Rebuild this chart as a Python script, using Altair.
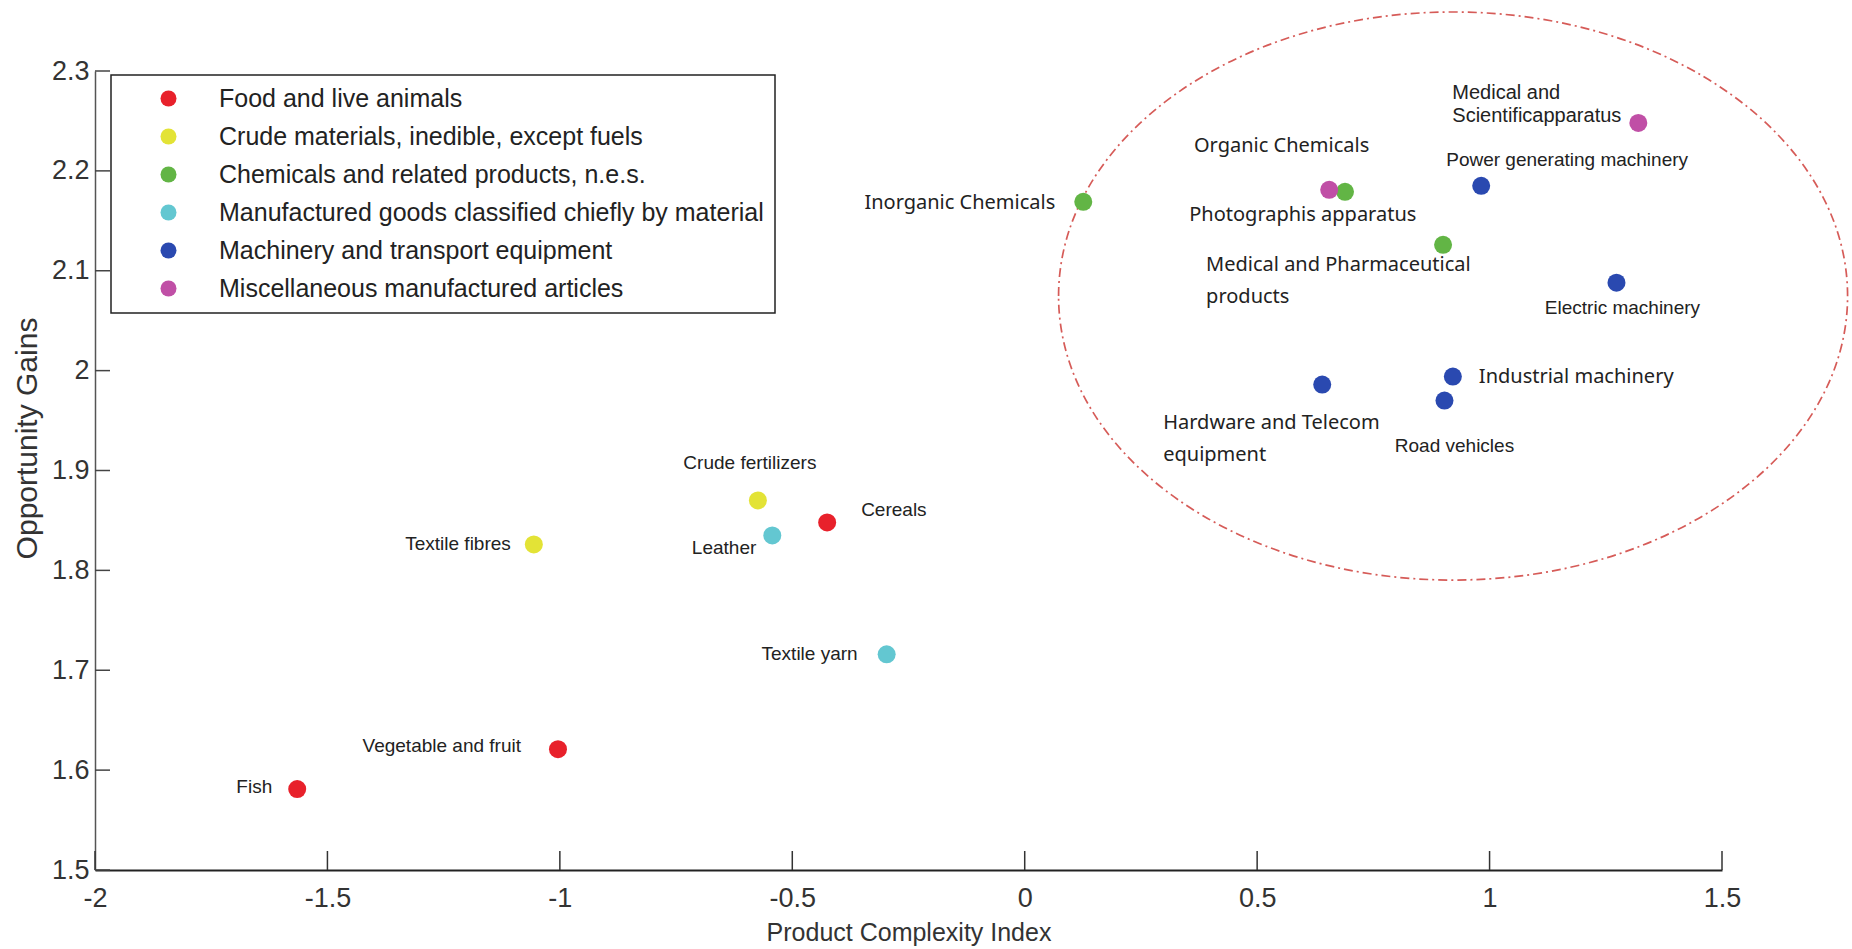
import altair as alt
import pandas as pd

# ---- categories (SITC sections) and their colours ----
groups = [
    "Food and live animals",
    "Crude materials, inedible, except fuels",
    "Chemicals and related products, n.e.s.",
    "Manufactured goods classified chiefly by material",
    "Machinery and transport equipment",
    "Miscellaneous manufactured articles",
]
group_colors = ["#e8212b", "#e3e336", "#62b545", "#63c7d1", "#2a49b0", "#c04fa6"]

# ---- products ----
products = [
    "Fish", "Vegetable and fruit", "Cereals",
    "Textile fibres", "Crude fertilizers",
    "Leather", "Textile yarn",
    "Inorganic Chemicals", "Organic Chemicals", "Medical and Pharmaceutical products",
    "Photographis apparatus", "Medical and Scientificapparatus",
    "Power generating machinery", "Electric machinery", "Industrial machinery",
    "Road vehicles", "Hardware and Telecom equipment",
]
product_group = [
    groups[0], groups[0], groups[0],
    groups[1], groups[1],
    groups[3], groups[3],
    groups[2], groups[2], groups[2],
    groups[5], groups[5],
    groups[4], groups[4], groups[4],
    groups[4], groups[4],
]
product_labels = [
    "Fish", "Vegetable and fruit", "Cereals",
    "Textile fibres", "Crude fertilizers",
    "Leather", "Textile yarn",
    "Inorganic Chemicals", "Organic Chemicals", "Medical and Pharmaceutical\nproducts",
    "Photographis apparatus", "Medical and\nScientificapparatus",
    "Power generating machinery", "Electric machinery", "Industrial machinery",
    "Road vehicles", "Hardware and Telecom\nequipment",
]
pci = [
    -1.565, -1.004, -0.425,
    -1.056, -0.574,
    -0.543, -0.297,
    0.126, 0.689, 0.900,
    0.655, 1.320,
    0.982, 1.273, 0.921,
    0.903, 0.640,
]
opportunity_gain = [
    1.581, 1.621, 1.848,
    1.826, 1.870,
    1.835, 1.716,
    2.169, 2.179, 2.126,
    2.181, 2.248,
    2.185, 2.088, 1.994,
    1.970, 1.986,
]

x_ticks = [-2, -1.5, -1, -0.5, 0, 0.5, 1, 1.5]
y_ticks = [1.5, 1.6, 1.7, 1.8, 1.9, 2.0, 2.1, 2.2, 2.3]

# highlighted cluster: dash-dot ellipse around the high-complexity products
ellipse_center = {"pci": [0.9215], "gain": [2.0747]}
ELLIPSE_WIDTH_PX = 789
ELLIPSE_RATIO = 0.72

# ---- layout ----
PLOT_W, PLOT_H = 1627, 799
PAD = {"left": 95, "top": 71, "right": 130, "bottom": 79}
FONT_A = "Liberation Sans"
FONT_B = "Noto Sans"

df = pd.DataFrame({
    "product": products,
    "group": product_group,
    "label": product_labels,
    "pci": pci,
    "gain": opportunity_gain,
})

x_scale = alt.Scale(domain=[-2, 1.5], nice=False, zero=False)
y_scale = alt.Scale(domain=[1.5, 2.3], nice=False, zero=False)

x_axis = alt.Axis(
    title="Product Complexity Index", values=x_ticks, labelExpr="datum.value + ''",
    ticks=False, grid=False, domainColor="#222", domainWidth=2,
    labelFont=FONT_A, labelFontSize=27, labelColor="#333", labelPadding=15,
    labelFlush=False, labelOverlap=False,
    titleFont=FONT_A, titleFontSize=25, titleFontWeight="normal", titleColor="#333",
    titleY=62, titleBaseline="middle",
)
y_axis = alt.Axis(
    title="Opportunity Gains", values=y_ticks, labelExpr="datum.value + ''",
    ticks=False, grid=False, domainColor="#555", domainWidth=1.5,
    labelFont=FONT_A, labelFontSize=27, labelColor="#333", labelPadding=6,
    labelOverlap=False,
    titleFont=FONT_A, titleFontSize=30, titleFontWeight="normal", titleColor="#333",
    titleX=-68, titleY=367, titleBaseline="middle",
)

# every layer shares the same scales and axis definitions
X = alt.X("pci:Q", scale=x_scale, axis=x_axis)
Y = alt.Y("gain:Q", scale=y_scale, axis=y_axis)

# unit-square ellipse path (cubic Bezier approximation)
k = 0.5523
q = ELLIPSE_RATIO
kq = k * q
ellipse_path = (
    f"M -1 0 C -1 {-kq:.4f} {-k} {-q} 0 {-q} "
    f"C {k} {-q} 1 {-kq:.4f} 1 0 "
    f"C 1 {kq:.4f} {k} {q} 0 {q} "
    f"C {-k} {q} -1 {kq:.4f} -1 0 Z"
)
ellipse = alt.Chart(pd.DataFrame(ellipse_center)).mark_point(
    shape=ellipse_path, size=ELLIPSE_WIDTH_PX ** 2, filled=False,
    stroke="#d24a46", strokeWidth=1.7, strokeDash=[9, 4, 2, 4], opacity=0.9,
).encode(x=X, y=Y)

# inward tick marks
x_tick_marks = alt.Chart(pd.DataFrame({"pci": x_ticks})).mark_rule(
    color="#333", strokeWidth=1.5
).encode(
    x=X, y=alt.value(PLOT_H), y2=alt.value(PLOT_H - 19),
)
y_tick_marks = alt.Chart(pd.DataFrame({"gain": y_ticks})).mark_rule(
    color="#444", strokeWidth=1.5
).encode(
    y=Y, x=alt.value(0), x2=alt.value(15),
)

indent_expr = (
    "indexof(['Crude materials, inedible, except fuels', "
    "'Chemicals and related products, n.e.s.'], datum.label) >= 0 "
    "? datum.label : '\u00a0' + datum.label"
)

points = alt.Chart(df).mark_circle(size=324, opacity=1).encode(
    x=X, y=Y,
    color=alt.Color(
        "group:N",
        scale=alt.Scale(domain=groups, range=group_colors),
        sort=groups,
        legend=alt.Legend(
            title=None, orient="none", legendX=16, legendY=4,
            padding=11, rowPadding=12,
            strokeColor="#222", fillColor="white",
            symbolType="circle", symbolSize=256, symbolOffset=34,
            symbolStrokeWidth=0,
            labelOffset=38, labelFont=FONT_A, labelFontSize=25,
            labelColor="#222", labelLimit=0, labelExpr=indent_expr,
        ),
    ),
)

# label placement relative to each point (pixels)
placement = {
    "Fish": dict(align="right", dx=-25, dy=-2),
    "Vegetable and fruit": dict(align="right", dx=-37, dy=-3),
    "Cereals": dict(align="left", dx=34, dy=-12),
    "Textile fibres": dict(align="right", dx=-23, dy=0),
    "Crude fertilizers": dict(align="center", dx=-8, dy=-37),
    "Leather": dict(align="right", dx=-16, dy=13),
    "Textile yarn": dict(align="right", dx=-29, dy=0),
    "Inorganic Chemicals": dict(align="right", dx=-28, dy=1, font="B"),
    "Organic Chemicals": dict(align="left", dx=-151, dy=-46, font="B"),
    "Medical and Pharmaceutical products": dict(align="left", dx=-237, dy=10, baseline="top", lineHeight=32, font="B"),
    "Photographis apparatus": dict(align="left", dx=-140, dy=25, font="B"),
    "Medical and Scientificapparatus": dict(align="left", dx=-186, dy=-40, baseline="top", lineHeight=23, size=20),
    "Power generating machinery": dict(align="left", dx=-35, dy=-26),
    "Electric machinery": dict(align="center", dx=6, dy=25),
    "Industrial machinery": dict(align="left", dx=26, dy=0, font="B"),
    "Road vehicles": dict(align="center", dx=10, dy=45),
    "Hardware and Telecom equipment": dict(align="left", dx=-159, dy=28, baseline="top", lineHeight=32, font="B"),
}

labels = []
for name in products:
    p = placement[name]
    is_b = p.get("font") == "B"
    labels.append(
        alt.Chart(df).transform_filter(alt.datum.product == name).mark_text(
            align=p["align"], baseline=p.get("baseline", "middle"),
            dx=p["dx"], dy=p["dy"],
            font=FONT_B if is_b else FONT_A,
            fontSize=p.get("size", 20 if is_b else 19),
            lineBreak="\n", lineHeight=p.get("lineHeight", 22),
            color="#222",
        ).encode(x=X, y=Y, text="label:N")
    )

chart = alt.layer(ellipse, x_tick_marks, y_tick_marks, points, *labels).properties(
    width=PLOT_W, height=PLOT_H,
    autosize=alt.AutoSizeParams(type="none"),
    padding=PAD,
    background="white",
).configure_view(stroke=None).configure_legend(strokeWidth=1.5)

chart.save("out.html", embed_options={"renderer": "svg", "actions": False})
